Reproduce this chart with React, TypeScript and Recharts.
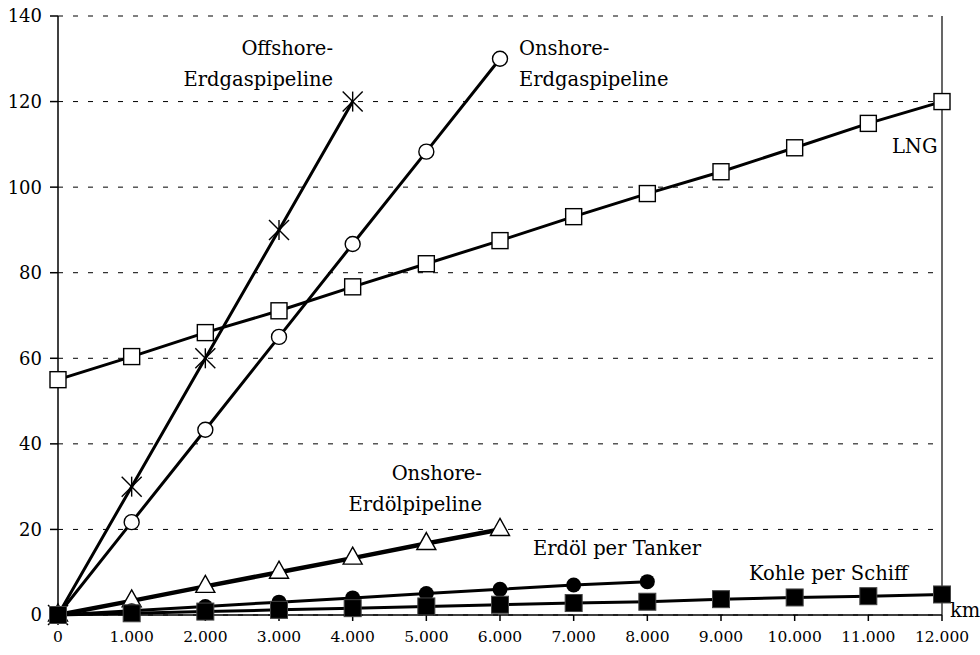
import { LineChart, Line, XAxis, YAxis, CartesianGrid, ReferenceLine, ReferenceDot } from "recharts"

const xTicks = [0, 1000, 2000, 3000, 4000, 5000, 6000, 7000, 8000, 9000, 10000, 11000, 12000]
const yTicks = [0, 20, 40, 60, 80, 100, 120, 140]

const lngKm = [0, 1000, 2000, 3000, 4000, 5000, 6000, 7000, 8000, 9000, 10000, 11000, 12000]
const lngCost = [55, 60.4, 66, 71.1, 76.7, 82.1, 87.5, 93.1, 98.5, 103.6, 109.2, 114.9, 120]

const offshoreKm = [0, 1000, 2000, 3000, 4000]
const offshoreCost = [0, 30, 60, 90, 120]

const onshoreGasKm = [0, 1000, 2000, 3000, 4000, 5000, 6000]
const onshoreGasCost = [0, 21.7, 43.3, 65, 86.7, 108.3, 130]

const onshoreOilKm = [0, 1000, 2000, 3000, 4000, 5000, 6000]
const onshoreOilCost = [0, 3.3, 6.7, 10, 13.3, 16.7, 20]

const tankerKm = [0, 1000, 2000, 3000, 4000, 5000, 6000, 7000, 8000]
const tankerCost = [0, 1, 2, 3, 4, 5, 6, 7, 7.8]

const coalKm = [0, 1000, 2000, 3000, 4000, 5000, 6000, 7000, 8000, 9000, 10000, 11000, 12000]
const coalCost = [0, 0.4, 0.8, 1.2, 1.6, 2, 2.4, 2.8, 3.1, 3.7, 4.1, 4.4, 4.8]

// annotations: [x, y, anchor, lines]
const notes: [number, number, string, string[]][] = [
  [3733, 132.6, "end", ["Offshore-", "Erdgaspipeline"]],
  [6258, 132.6, "start", ["Onshore-", "Erdgaspipeline"]],
  [11320, 109.5, "start", ["LNG"]],
  [5755, 33.2, "end", ["Onshore-", "Erdölpipeline"]],
  [6447, 15.7, "start", ["Erdöl per Tanker"]],
  [9380, 9.8, "start", ["Kohle per Schiff"]],
  [12108, 1.2, "start", ["km"]],
]

const FONT = "DejaVu Serif"

const toData = (xs: number[], ys: number[]) => xs.map((x, i) => ({ km: x, v: ys[i] }))

const fmtKm = (v: number) => String(v).replace(/\B(?=(\d{3})+(?!\d))/g, ".")

function marker(kind: string) {
  return (p: any) => {
    const { cx, cy, index } = p
    const k = `${kind}-${index}`
    if (cx == null || cy == null) return <g key={k} />
    switch (kind) {
      case "openSquare":
        return <rect key={k} x={cx - 8} y={cy - 8} width={16} height={16} fill="#fff" stroke="#000" strokeWidth={1.4} />
      case "star":
        return (
          <g key={k} stroke="#000" strokeWidth={1.4}>
            <line x1={cx - 10} y1={cy - 10} x2={cx + 10} y2={cy + 10} />
            <line x1={cx - 10} y1={cy + 10} x2={cx + 10} y2={cy - 10} />
            <line x1={cx} y1={cy - 10} x2={cx} y2={cy + 10} />
          </g>
        )
      case "openCircle":
        return <circle key={k} cx={cx} cy={cy} r={7.5} fill="#fff" stroke="#000" strokeWidth={1.4} />
      case "triangle":
        return (
          <path key={k} d={`M${cx},${cy - 11} L${cx + 9.5},${cy + 6} L${cx - 9.5},${cy + 6} Z`} fill="#fff" stroke="#000" strokeWidth={1.4} />
        )
      case "dot":
        return <circle key={k} cx={cx} cy={cy} r={7.5} fill="#000" />
      default:
        return <rect key={k} x={cx - 8.5} y={cy - 8.5} width={17} height={17} fill="#000" stroke="#444" strokeWidth={1} />
    }
  }
}

const noteShape = (anchor: string, lines: string[]) => (p: any) => (
  <text x={p.cx} y={p.cy} textAnchor={anchor} fontFamily={FONT} fontSize={19.5} fill="#000">
    {lines.map((l, i) => (
      <tspan key={i} x={p.cx} dy={i === 0 ? 7 : 31}>
        {l}
      </tspan>
    ))}
  </text>
)

export default function App() {
  return (
    <div style={{ position: "absolute", left: 0, top: 0, width: 980, height: 655, background: "#fff" }}>
      <LineChart width={980} height={655} margin={{ top: 16, right: 38, bottom: 10, left: 0 }}>
        <CartesianGrid vertical={false} stroke="#000" strokeDasharray="5 10" strokeWidth={1} />
        <XAxis
          dataKey="km"
          type="number"
          domain={[0, 12000]}
          ticks={xTicks}
          tickFormatter={fmtKm}
          allowDuplicatedCategory={false}
          height={30}
          tickSize={6}
          tickMargin={10}
          stroke="#000"
          strokeWidth={1.5}
          tick={{ fill: "#000", fontFamily: FONT, fontSize: 15.5 }}
        />
        <YAxis
          type="number"
          domain={[0, 140]}
          ticks={yTicks}
          width={58}
          tickSize={8}
          tickMargin={8}
          stroke="#000"
          strokeWidth={1.5}
          tick={{ fill: "#000", fontFamily: FONT, fontSize: 18 }}
        />
        <ReferenceLine x={12000} stroke="#000" strokeWidth={1.2} />
        <Line data={toData(lngKm, lngCost)} dataKey="v" stroke="#000" strokeWidth={3} dot={marker("openSquare")} isAnimationActive={false} />
        <Line data={toData(onshoreGasKm, onshoreGasCost)} dataKey="v" stroke="#000" strokeWidth={3} dot={marker("openCircle")} isAnimationActive={false} />
        <Line data={toData(offshoreKm, offshoreCost)} dataKey="v" stroke="#000" strokeWidth={3} dot={marker("star")} isAnimationActive={false} />
        <Line data={toData(onshoreOilKm, onshoreOilCost)} dataKey="v" stroke="#000" strokeWidth={4.5} dot={marker("triangle")} isAnimationActive={false} />
        <Line data={toData(tankerKm, tankerCost)} dataKey="v" stroke="#000" strokeWidth={3} dot={marker("dot")} isAnimationActive={false} />
        <Line data={toData(coalKm, coalCost)} dataKey="v" stroke="#000" strokeWidth={3} dot={marker("filledSquare")} isAnimationActive={false} />
        {notes.map(([x, y, anchor, lines], i) => (
          <ReferenceDot key={i} x={x} y={y} r={0} ifOverflow="visible" shape={noteShape(anchor, lines)} />
        ))}
      </LineChart>
    </div>
  )
}
